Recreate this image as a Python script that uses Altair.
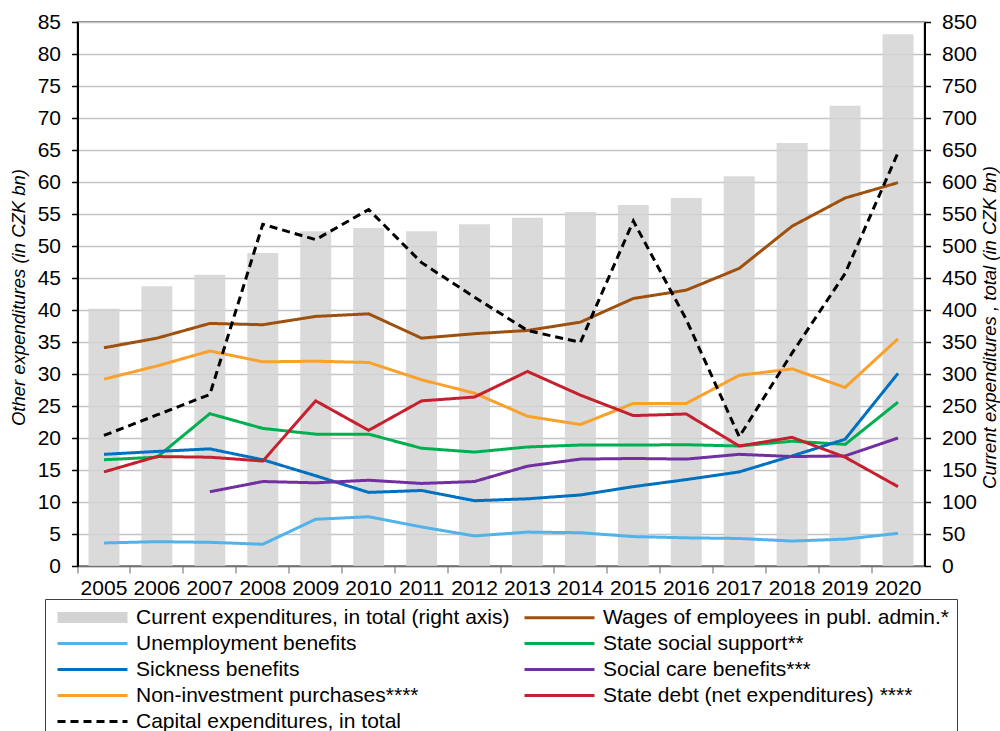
import altair as alt
import pandas as pd

years = [str(y) for y in range(2005, 2021)]

current_total = [402, 437, 455, 489, 523, 528, 523, 534, 544, 553, 564, 575, 609, 661, 719, 831]
wages = [34.1, 35.6, 37.9, 37.7, 39.0, 39.4, 35.6, 36.3, 36.8, 38.1, 41.8, 43.1, 46.5, 53.1, 57.5, 59.9]
unemployment = [3.6, 3.8, 3.7, 3.4, 7.3, 7.7, 6.1, 4.7, 5.3, 5.2, 4.6, 4.4, 4.3, 3.9, 4.2, 5.1]
social_support = [16.6, 17.0, 23.8, 21.5, 20.6, 20.6, 18.4, 17.8, 18.6, 18.9, 18.9, 18.95, 18.75, 19.5, 19.0, 25.6]
sickness = [17.45, 17.9, 18.3, 16.6, 14.1, 11.5, 11.8, 10.2, 10.5, 11.1, 12.4, 13.5, 14.7, 17.2, 19.8, 30.1]
social_care = [None, None, 11.6, 13.2, 13.0, 13.4, 12.9, 13.2, 15.6, 16.7, 16.8, 16.7, 17.45, 17.1, 17.2, 20.0]
purchases = [29.2, 31.25, 33.6, 31.9, 32.0, 31.8, 29.1, 27.0, 23.4, 22.1, 25.4, 25.4, 29.8, 30.8, 27.9, 35.5]
state_debt = [14.7, 17.1, 17.0, 16.4, 25.8, 21.2, 25.8, 26.4, 30.4, 26.7, 23.5, 23.75, 18.75, 20.1, 17.0, 12.4]
capital = [20.4, 23.6, 26.8, 53.4, 51.0, 55.7, 47.4, 42.0, 36.8, 34.95, 53.9, 38.5, 20.2, 33.3, 45.7, 64.6]

S_BAR = "Current expenditures, in total (right axis)"
S_WAGES = "Wages of employees in publ. admin.*"
S_UNEMP = "Unemployment benefits"
S_SSS = "State social support**"
S_SICK = "Sickness benefits"
S_CARE = "Social care benefits***"
S_PURCH = "Non-investment purchases****"
S_DEBT = "State debt (net expenditures) ****"
S_CAP = "Capital expenditures, in total"
S_SLOT = " "  # empty slot of the line legend, where the bar legend sits

# line legend is filled column by column: left column first, then right column
line_order = [S_SLOT, S_UNEMP, S_SICK, S_PURCH, S_CAP, S_WAGES, S_SSS, S_CARE, S_DEBT]
line_colors = ["transparent", "#52b2ea", "#0070c0", "#f9a12b", "#000000", "#9e500e", "#00b050", "#7030a0", "#c6202e"]
line_dashes = [[1, 0], [1, 0], [1, 0], [1, 0], [8, 5], [1, 0], [1, 0], [1, 0], [1, 0]]
bar_color = "#d3d3d3"

line_series = {
    S_WAGES: wages,
    S_UNEMP: unemployment,
    S_SSS: social_support,
    S_SICK: sickness,
    S_CARE: social_care,
    S_PURCH: purchases,
    S_DEBT: state_debt,
    S_CAP: capital,
}

rows = []
for name, vals in line_series.items():
    for y, v in zip(years, vals):
        if v is not None:
            rows.append({"year": y, "value": v, "series": name})
df_lines = pd.DataFrame(rows)
df_bar = pd.DataFrame({"year": years, "total": current_total, "bar_series": S_BAR})

FONT = "Liberation Sans, Arial, sans-serif"

LEG_X = -32.5
LEG_Y = 577

common_legend = dict(
    title=None,
    orient="none",
    legendX=LEG_X,
    legendY=LEG_Y,
    symbolSize=64,
    symbolOpacity=1,
    labelFont=FONT,
    labelFontSize=21,
    labelColor="#000000",
    labelOffset=62,
    labelLimit=0,
    padding=8,
)

line_legend = alt.Legend(
    columns=2,
    symbolType="M-1.5,0H16",
    symbolStrokeWidth=3,
    rowPadding=4,
    columnPadding=99,
    strokeColor="#404040",
    **common_legend,
)

bar_legend = alt.Legend(
    symbolType="M-1.5,-1.375H16V1.375H-1.5Z",
    symbolStrokeWidth=0,
    **common_legend,
)

x_enc = alt.X(
    "year:O",
    sort=years,
    scale=alt.Scale(paddingInner=0, paddingOuter=0),
    axis=alt.Axis(
        title=None,
        labelAngle=0,
        labelFont=FONT,
        labelFontSize=21,
        labelColor="#000000",
        labelPadding=4,
        bandPosition=0,
        tickSize=7,
        tickColor="#808080",
        tickWidth=1.2,
        domainColor="#707070",
        domainWidth=1.5,
        grid=False,
    ),
)

bars = alt.Chart(df_bar).mark_bar(width=alt.RelativeBandSize(0.585), opacity=0.85).encode(
    x=x_enc,
    y=alt.Y(
        "total:Q",
        scale=alt.Scale(domain=[0, 850], nice=False, zero=True),
        axis=alt.Axis(
            orient="right",
            values=list(range(0, 851, 50)),
            title="Current expenditures , total (in CZK bn)",
            titleFont=FONT,
            titleFontSize=18.5,
            titleFontStyle="italic",
            titleFontWeight="normal",
            titleColor="#000000",
            titleAngle=270,
            titleBaseline="middle",
            titleAlign="center",
            titleX=65,
            titleY=305,
            labelFont=FONT,
            labelFontSize=21,
            labelColor="#000000",
            labelPadding=11,
            tickSize=6,
            tickColor="#000000",
            tickWidth=1.5,
            domainColor="#000000",
            domainWidth=2,
            grid=False,
        ),
    ),
    fill=alt.Fill("bar_series:N", scale=alt.Scale(domain=[S_BAR], range=[bar_color]), legend=bar_legend),
)

lines = alt.Chart(df_lines).mark_line(strokeWidth=3).encode(
    x=x_enc,
    y=alt.Y(
        "value:Q",
        scale=alt.Scale(domain=[0, 85], nice=False, zero=True),
        axis=alt.Axis(
            orient="left",
            values=list(range(0, 86, 5)),
            title="Other expenditures (in CZK bn)",
            titleFont=FONT,
            titleFontSize=18.5,
            titleFontStyle="italic",
            titleFontWeight="normal",
            titleColor="#000000",
            titleAngle=270,
            titleBaseline="middle",
            titleAlign="center",
            titleX=-59,
            titleY=275,
            labelFont=FONT,
            labelFontSize=21,
            labelColor="#000000",
            labelPadding=11,
            tickSize=6,
            tickColor="#000000",
            tickWidth=1.5,
            domainColor="#000000",
            domainWidth=2,
            grid=True,
            gridColor="#c4c4c4",
            gridWidth=1.5,
        ),
    ),
    color=alt.Color("series:N", scale=alt.Scale(domain=line_order, range=line_colors), legend=line_legend),
    strokeDash=alt.StrokeDash("series:N", scale=alt.Scale(domain=line_order, range=line_dashes), legend=line_legend),
)

chart = (
    alt.layer(bars, lines)
    .resolve_scale(y="independent")
    .properties(
        width=847,
        height=544,
        padding={"left": 77.5, "top": 22, "right": 75.5, "bottom": 165},
        autosize="none",
        background="white",
    )
    .configure_view(stroke="#595959", strokeWidth=1.5)
)

chart.save("out.html", embed_options={"renderer": "svg", "actions": False})
